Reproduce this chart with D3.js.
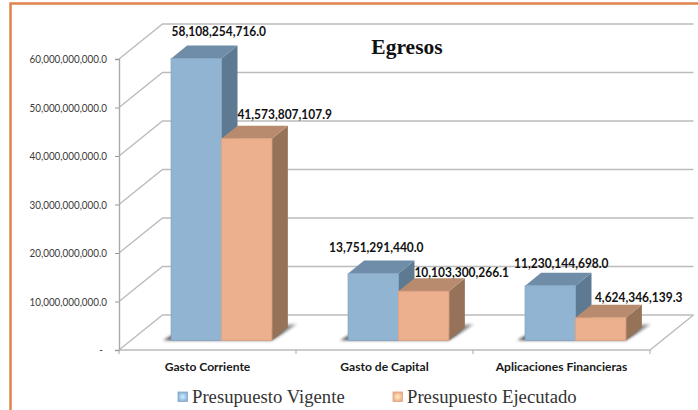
<!DOCTYPE html>
<html>
<head>
<meta charset="utf-8">
<script src="https://cdn.jsdelivr.net/npm/d3@7"></script>
<style>
  html, body { margin: 0; padding: 0; background: #fff; }
  svg { display: block; }
</style>
</head>
<body>
<main></main>
<script>
const categories = ['Gasto Corriente', 'Gasto de Capital', 'Aplicaciones Financieras'];
const seriesNames = ['Presupuesto Vigente', 'Presupuesto Ejecutado'];
const vigente = [58108254716.0, 13751291440.0, 11230144698.0];
const ejecutado = [41573807107.9, 10103300266.1, 4624346139.3];
const yTicks = [0, 10e9, 20e9, 30e9, 40e9, 50e9, 60e9];

const width = 698;
const height = 410;
const plot = {left: 119, right: 650, top: 59, bottom: 350};
const depth = {x: 43.5, y: 35};      // how far the back wall sits from the front
const barDepth = {x: 16, y: 13};
const barLift = 9.7;                 // bars stand a bit back from the front of the floor
const barShift = 14;

// [dx, dy] of each label from the top centre of its bar, by series then category
const labelNudge = [
  [[22.5, -27], [3, -26.5], [11, -23]],
  [[38, -25], [38, -19.5], [38, -20.5]]
];

const colors = [
  {front: '#92b4d3', top: '#6f8ca8', side: '#5e7a92', edge: '#86a6c6'},
  {front: '#ecb08e', top: '#b98b6e', side: '#967259', edge: '#dca482'}
];

// Lato is wider than the chart's font, so narrow the glyphs to keep the height
const squeeze = (sel, factor) => sel.each(function() {
  const len = this.getComputedTextLength();
  d3.select(this)
    .attr('textLength', len * factor)
    .attr('lengthAdjust', 'spacingAndGlyphs');
});

const svg = d3.select('main').append('svg')
  .attr('width', width)
  .attr('height', height);

const defs = svg.append('defs');
defs.append('filter').attr('id', 'soft')
  .attr('x', '-20%').attr('y', '-50%').attr('width', '140%').attr('height', '200%')
  .append('feGaussianBlur').attr('stdDeviation', 1.6);

const fade = defs.append('linearGradient').attr('id', 'floorShadow')
  .attr('x1', 0).attr('y1', 1).attr('x2', 1).attr('y2', 0);
fade.append('stop').attr('offset', 0.6).attr('stop-color', '#444');
fade.append('stop').attr('offset', 1).attr('stop-color', '#aaa');

colors.forEach((c, i) => {
  const g = defs.append('radialGradient').attr('id', `swatch${i}`);
  g.append('stop').attr('offset', 0.2).attr('stop-color', d3.color(c.front).brighter(0.7));
  g.append('stop').attr('offset', 1).attr('stop-color', c.front);
});

// page frame
svg.append('path')
  .attr('d', `M${width},3.5H10.5V${height}`)
  .attr('fill', 'none')
  .attr('stroke', '#e0834e')
  .attr('stroke-width', 2.5);

// ========= scales =========== //
const y = d3.scaleLinear().domain([0, 60e9]).range([plot.bottom, plot.top]);

const xAxisScale = d3.scaleBand().domain(categories).range([plot.left, plot.right]);

const x0 = d3.scaleBand()
  .domain(categories)
  .range([plot.left + barShift, plot.right + barShift])
  .paddingInner(0.431)
  .paddingOuter(0.2155);

const x1 = d3.scaleBand().domain(seriesNames).range([0, x0.bandwidth()]);

// ========= walls and floor =========== //
const wall = svg.append('g')
  .attr('fill', 'none')
  .attr('stroke', '#bcbcbc')
  .attr('stroke-width', 1.4);

yTicks.forEach(t => {
  const p = d3.path();
  p.moveTo(plot.left, y(t));
  p.lineTo(plot.left + depth.x, y(t) - depth.y);
  p.lineTo(plot.right + depth.x, y(t) - depth.y);
  wall.append('path').attr('d', p.toString());
});

wall.append('path')
  .attr('d', `M${plot.left},${y(0)}H${plot.right}L${plot.right + depth.x},${y(0) - depth.y}`);

// ========= axes =========== //
const yAxis = d3.axisLeft(y)
  .tickValues(yTicks)
  .tickSize(4)
  .tickPadding(8)
  .tickFormat(d => d === 0 ? '-' : d3.format(',.1f')(d));

const yG = svg.append('g')
  .attr('transform', `translate(${plot.left},0)`)
  .call(yAxis);
yG.select('.domain').attr('stroke', '#aaa').attr('stroke-width', 1.4);
yG.selectAll('line').attr('stroke', '#999');
yG.selectAll('text')
  .attr('fill', '#3c3c3c')
  .style('font', '11.5px Lato, sans-serif')
  .attr('dx', d => d === 0 ? -4 : 0)
  .call(squeeze, 0.855);

const xAxis = d3.axisBottom(xAxisScale).tickSize(0).tickPadding(12);
const xG = svg.append('g')
  .attr('transform', `translate(0,${plot.bottom})`)
  .call(xAxis);
xG.select('.domain').remove();
xG.selectAll('text')
  .attr('fill', '#1a1a1a')
  .style('font', 'bold 12.1px Lato, sans-serif');

// band edges get the tick marks, not the band centres
xG.selectAll('.edge')
  .data(categories.map(c => xAxisScale(c)).concat(plot.right))
  .enter()
  .append('line')
  .attr('x1', d => d).attr('x2', d => d)
  .attr('y1', 0).attr('y2', 4)
  .attr('stroke', '#aaa');

// ========= bars =========== //
const barTop = v => y(v) - barLift;
const barBase = barTop(0);

const groups = svg.append('g').selectAll('g')
  .data(categories)
  .enter()
  .append('g')
  .attr('transform', d => `translate(${x0(d)},0)`);

// floor shadow under each pair of bars
groups.append('path')
  .attr('d', () => {
    const w = x0.bandwidth();
    return `M-8,${barBase}L${w},${barBase}L${w + barDepth.x + 9},${barBase - barDepth.y - 3}L${barDepth.x},${barBase - barDepth.y}Z`;
  })
  .attr('fill', 'url(#floorShadow)')
  .attr('filter', 'url(#soft)');

const allSeries = [vigente, ejecutado];

seriesNames.forEach((name, s) => {
  const c = colors[s];
  const bx = x1(name);
  const bw = x1.bandwidth();

  const bar = groups.append('g');

  bar.append('path')
    .attr('fill', c.side)
    .attr('d', (d, i) => {
      const t = barTop(allSeries[s][i]);
      return `M${bx + bw},${t}l${barDepth.x},${-barDepth.y}V${barBase - barDepth.y}L${bx + bw},${barBase}Z`;
    });

  bar.append('path')
    .attr('fill', c.top)
    .attr('d', (d, i) => {
      const t = barTop(allSeries[s][i]);
      return `M${bx},${t}l${barDepth.x},${-barDepth.y}h${bw}l${-barDepth.x},${barDepth.y}Z`;
    });

  bar.append('rect')
    .attr('x', bx)
    .attr('y', (d, i) => barTop(allSeries[s][i]))
    .attr('width', bw)
    .attr('height', (d, i) => barBase - barTop(allSeries[s][i]))
    .attr('fill', c.front)
    .attr('stroke', c.edge)
    .attr('stroke-width', 1);
});

// data labels go on after all the bars so none gets covered
seriesNames.forEach((name, s) => {
  groups.append('text')
    .attr('x', (d, i) => x1(name) + x1.bandwidth() / 2 + labelNudge[s][i][0])
    .attr('y', (d, i) => barTop(allSeries[s][i]) + labelNudge[s][i][1])
    .attr('text-anchor', 'middle')
    .attr('dominant-baseline', 'central')
    .attr('fill', '#111')
    .style('font', 'bold 13px Lato, sans-serif')
    .text((d, i) => d3.format(',.1f')(allSeries[s][i]))
    .call(squeeze, 0.92);
});

// ========= title and legend =========== //
svg.append('text')
  .attr('x', 407).attr('y', 54)
  .attr('text-anchor', 'middle')
  .attr('fill', '#111')
  .style('font', 'bold 21.5px "Liberation Serif", serif')
  .text('Egresos');

const legendX = d3.scaleOrdinal().domain(seriesNames).range([178, 393]);

const legend = svg.append('g').selectAll('g')
  .data(seriesNames)
  .enter()
  .append('g')
  .attr('transform', d => `translate(${legendX(d)},392)`);

legend.append('rect')
  .attr('width', 9.5).attr('height', 9.5)
  .attr('fill', (d, i) => `url(#swatch${i})`)
  .attr('stroke', (d, i) => colors[i].edge)
  .attr('stroke-width', 0.8);

legend.append('text')
  .attr('x', 14).attr('y', 10.5)
  .attr('fill', '#333')
  .style('font', '18.7px "Liberation Serif", serif')
  .text(d => d);
</script>
</body>
</html>
